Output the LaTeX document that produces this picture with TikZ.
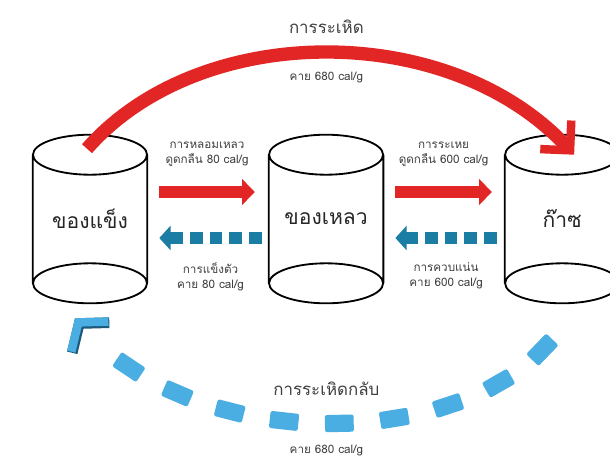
\documentclass[tikz,border=0pt]{standalone}
\usepackage{fontspec}
\setmainfont[Script=Thai]{Loma}
\usetikzlibrary{arrows.meta,calc}
\usetikzlibrary{positioning}
\usetikzlibrary{decorations.markings}
\definecolor{heatred}{RGB}{226,38,38}
\definecolor{coldteal}{RGB}{27,124,164}
\definecolor{skyblue}{RGB}{74,174,227}
\definecolor{skyedge}{RGB}{30,88,122}
\tikzstyle{can}=[minimum width=2.85cm,minimum height=3.2cm,inner sep=0,
                font=\fontsize{15}{18}\selectfont,text=black!85]
\tikzstyle{canline}=[line width=1.3pt]
\tikzstyle{absorb}=[draw=heatred,line width=8.5pt,-{Triangle[length=9pt,width=18pt]}]
\tikzstyle{release}=[draw=coldteal,line width=9pt,dash pattern=on 9pt off 5pt,
                -{Triangle[length=8pt,width=17pt]}]
\tikzstyle{sublim}=[draw=heatred,line width=9.5pt,
                -{Straight Barb[length=15pt,width=30pt,line width=6pt]}]
\tikzstyle{brick}=[draw=skyedge,fill=skyblue,line width=0.9pt,rounded corners=1.5pt,
                minimum width=0.72cm,minimum height=0.43cm,inner sep=0,transform shape]
\tikzstyle{deposit}=[draw=skyblue,line width=9pt,dash pattern=on 0pt off 2000pt,
                -{Straight Barb[length=13pt,width=34pt,line width=6pt]},
                preaction={draw=skyedge,line width=9pt,dash pattern=on 0pt off 2000pt,
                  -{Straight Barb[length=13pt,width=34pt,line width=7.6pt]}},
                postaction=decorate,
                decoration={markings,mark=between positions 0.04 and 0.87 step 0.103
                with {\node[brick] {};}}]
\tikzstyle{small}=[font=\fontsize{8.3}{10.6}\selectfont,align=center,text=black!75,inner sep=1pt]
\tikzstyle{mid}=[font=\fontsize{12}{14}\selectfont,text=black!75,inner sep=1pt]

\begin{document}
\begin{tikzpicture}[x=0.025cm,y=-0.025cm,node distance=5.9cm]
\useasboundingbox (0,0) rectangle (610,461);
\fill[white] (0,0) rectangle (610,461);
\clip (0,0) rectangle (610,461);

\node[can] (solid) at (90,219) {ของแข็ง};
\node[can,right of=solid] (liquid) {ของเหลว};
\node[can,right of=liquid] (gas) {ก๊าซ};

\foreach \n in {solid,liquid,gas}{
  \draw[canline] (\n.north) ellipse [x radius=1.425cm,y radius=0.5cm]
                 (\n.south) ellipse [x radius=1.425cm,y radius=0.5cm]
                 (\n.north west) -- (\n.south west)
                 (\n.north east) -- (\n.south east);
}

\path
($(solid.east)+(12,-27)$) edge[absorb] node[above=13pt,small] {การหลอมเหลว\\ดูดกลืน 80 cal/g} ($(liquid.west)+(-14,-27)$)
($(liquid.east)+(12,-27)$) edge[absorb] node[above=13pt,small] {การระเหย\\ดูดกลืน 600 cal/g} ($(gas.west)+(-13,-27)$)
($(liquid.west)+(-7,19)$) edge[release] node[below=12pt,small] {การแข็งตัว\\คาย 80 cal/g} ($(solid.east)+(12,19)$)
($(gas.west)+(-8,19)$) edge[release] node[below=12pt,small] {การควบแน่น\\คาย 600 cal/g} ($(liquid.east)+(12,19)$)
;

\draw[sublim] ($(solid.north)+(-3,-6)$) .. controls (200,20) and (450,20) .. ($(gas.north)+(12,0)$)
  node[pos=0.5,above=8pt,mid] {การระเหิด}
  node[pos=0.5,below=8pt,small] {คาย 680 cal/g};

\draw[deposit] ($(gas.south)+(-6,50)$) .. controls (470,452) and (190,460) .. ($(solid.south)+(-15,35)$)
  node[pos=0.5,above=14pt,mid] {การระเหิดกลับ}
  node[pos=0.5,below=10pt,small] {คาย 680 cal/g};
\end{tikzpicture}
\end{document}
